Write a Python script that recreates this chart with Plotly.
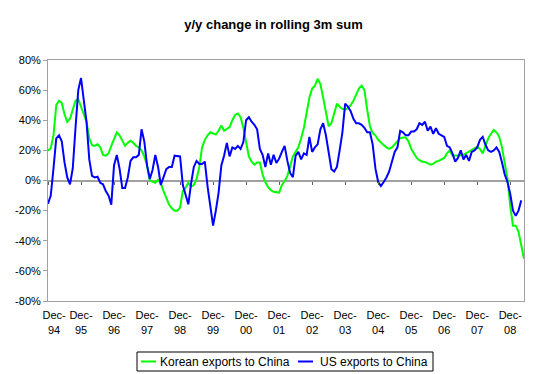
import plotly.graph_objects as go

# Monthly observations starting Dec-94 (index 0)
korea = [19.8, 21.5, 30, 50, 53, 51.5, 44, 39, 41, 47, 53, 54, 49, 44, 39, 28, 23.5, 23, 24, 22,
         17, 16.5, 18, 23, 28, 32, 30, 26, 23, 25, 26.4, 25, 23, 22, 20, 16, 10, 0, -1, -1.5,
         0.5, -2, -7, -11, -16, -18.5, -20, -20, -18, -7, -5, -1.5, -4, -3, 1, 9, 22, 27, 30, 32,
         31, 30.5, 33, 36.5, 33, 34, 35.5, 40, 43.5, 44.5, 42, 35, 25, 16, 12.5, 10.5, 12, 12, 4, -1,
         -4.5, -6.5, -7.5, -8, -8, -3, -0.5, 3, 10, 16, 19, 22, 28, 35, 45, 55, 61, 63, 67.5, 64,
         55, 46, 36, 38, 45, 51, 49, 47.5, 47, 48, 50, 53, 57, 61, 63, 60, 47, 36, 31.5, 30,
         27, 25, 23.5, 22, 21, 22, 24, 26, 28, 28.5, 28.5, 26, 21, 18, 15, 13.5, 12.5, 12.3, 11.5, 10.5,
         11, 12.5, 13, 14, 15, 18, 20, 16.5, 16.5, 16.5, 16.7, 17, 18, 19, 20.4, 21.5, 22.5, 21, 18, 23,
         28, 31, 33.6, 32, 29, 22, 12, 1, -17, -30, -30, -34, -43, -52]
us = [-15.4, -10, 8, 28, 30, 26, 12, 2, -2.5, 8, 35, 60, 68, 52, 39, 14, 3, 2, 2.5, -1.5,
      -2.5, -7, -10, -16, 10, 17, 8, -5, -5, 2, 13, 15.4, 15.5, 17, 34, 26, 10, 1, 7, 17,
      9, -3, 3, 7.5, 9, 9, 16.5, 16.5, 16, -3, -10, -15.8, -2, 9, 13, 11, 11, 12.5, -4, -18,
      -30, -20, -8, 10, 16.5, 25, 16, 22, 21, 23, 21, 25.5, 40, 42, 39, 37, 34, 21, 17, 9,
      18, 10.5, 17, 11.6, 14.5, 19, 23, 13, 5, 2.2, 16.5, 19, 14, 18, 17, 29, 19, 22, 24, 34,
      38, 30, 17, 7.5, 6, 9, 20, 32, 51, 49, 46, 41, 38, 38, 37, 35, 32, 32, 24, 8,
      -1, -3.7, -1, 2, 6, 13, 19, 22, 33, 32, 30, 30, 32.5, 32.5, 34, 38, 36.9, 39, 33, 35.8,
      31, 34.7, 31, 30, 29, 23, 22, 18, 12.5, 15, 20, 14, 17, 13, 19, 20, 22, 27, 29, 23.7,
      20, 19, 20, 22, 19, 12, 4, -1, -9, -20, -23.5, -20, -13.2]
tick_years = ["94", "95", "96", "97", "98", "99", "00", "01", "02", "03", "04", "05", "06", "07", "08"]
y_ticks = [80, 60, 40, 20, 0, -20, -40, -60, -80]
series_names = ["Korean exports to China", "US exports to China"]
series_colors = ["#00ff00", "#0000ff"]

months_k = list(range(len(korea)))
months_u = list(range(len(us)))
tickvals = [12 * i for i in range(len(tick_years))]
ticktext = ["Dec-<br>" + y for y in tick_years]
# the first label sits a little to the right of its tick in the reference
pad = "&nbsp;" * 4
ticktext[0] = pad + "Dec-<br>" + pad + tick_years[0]

font = "Liberation Sans, Arial, sans-serif"
grey = "#a0a0a0"

W, H = 547, 374
L, R, T, B = 48, 23, 60, 73
PW, PH = W - L - R, H - T - B


def px(x):
    return (x - L) / PW


def py(y):
    return (H - B - y) / PH


fig = go.Figure()
fig.add_trace(go.Scatter(x=months_k, y=korea, mode="lines", name=series_names[0],
                         line=dict(color=series_colors[0], width=2)))
fig.add_trace(go.Scatter(x=months_u, y=us, mode="lines", name=series_names[1],
                         line=dict(color=series_colors[1], width=2)))
# invisible trace carrying the tick marks on the zero axis
fig.add_trace(go.Scatter(x=[0], y=[0], xaxis="x2", mode="markers", marker=dict(opacity=0),
                         showlegend=False, hoverinfo="skip"))

# legend drawn as a boxed key below the plot
shapes = [dict(type="rect", xref="paper", yref="paper", x0=px(137), x1=px(433), y0=py(352), y1=py(371),
               line=dict(color="black", width=1), fillcolor="white")]
annotations = []
key_x = [(141, 158), (298, 318)]
for (lx, tx), name, col in zip(key_x, series_names, series_colors):
    shapes.append(dict(type="line", xref="paper", yref="paper", x0=px(lx), x1=px(lx + 15),
                       y0=py(361.5), y1=py(361.5), line=dict(color=col, width=2)))
    annotations.append(dict(text=name, xref="paper", yref="paper", x=px(tx), y=py(361.5),
                            xanchor="left", yanchor="middle", showarrow=False,
                            font=dict(family=font, size=12, color="black")))

xr = [0, len(korea) - 1]
fig.update_layout(
    width=W, height=H,
    margin=dict(l=L, r=R, t=T, b=B, autoexpand=False),
    paper_bgcolor="white", plot_bgcolor="white",
    title=dict(text="<b>y/y change in rolling 3m sum</b>", x=0.5, xanchor="center",
               y=1 - 24 / H, yanchor="middle", font=dict(family=font, size=13, color="black")),
    font=dict(family=font, size=11, color="black"),
    xaxis=dict(range=xr, tickvals=tickvals, ticktext=ticktext, showgrid=False, zeroline=False,
               showline=True, mirror=True, linecolor=grey, linewidth=1, ticks="",
               tickfont=dict(family=font, size=11, color="black"), ticklabelstandoff=4),
    xaxis2=dict(range=xr, overlaying="x", anchor="free", position=0.5, side="bottom",
                tickvals=tickvals, showticklabels=False, ticks="outside", ticklen=3,
                tickcolor="#606060", tickwidth=1, showline=False, showgrid=False, zeroline=False),
    yaxis=dict(range=[-80, 80], tickvals=y_ticks, ticktext=[f"{v}%" for v in y_ticks],
               showgrid=False, zeroline=True, zerolinecolor=grey, zerolinewidth=2,
               showline=True, mirror=True, linecolor=grey, linewidth=1,
               ticks="outside", ticklen=4, tickcolor=grey,
               tickfont=dict(family=font, size=11, color="black")),
    shapes=shapes,
    annotations=annotations,
    showlegend=False,
)
fig.write_html("out.html", config={"displayModeBar": False},
               post_script="document.body.style.margin='0';")
